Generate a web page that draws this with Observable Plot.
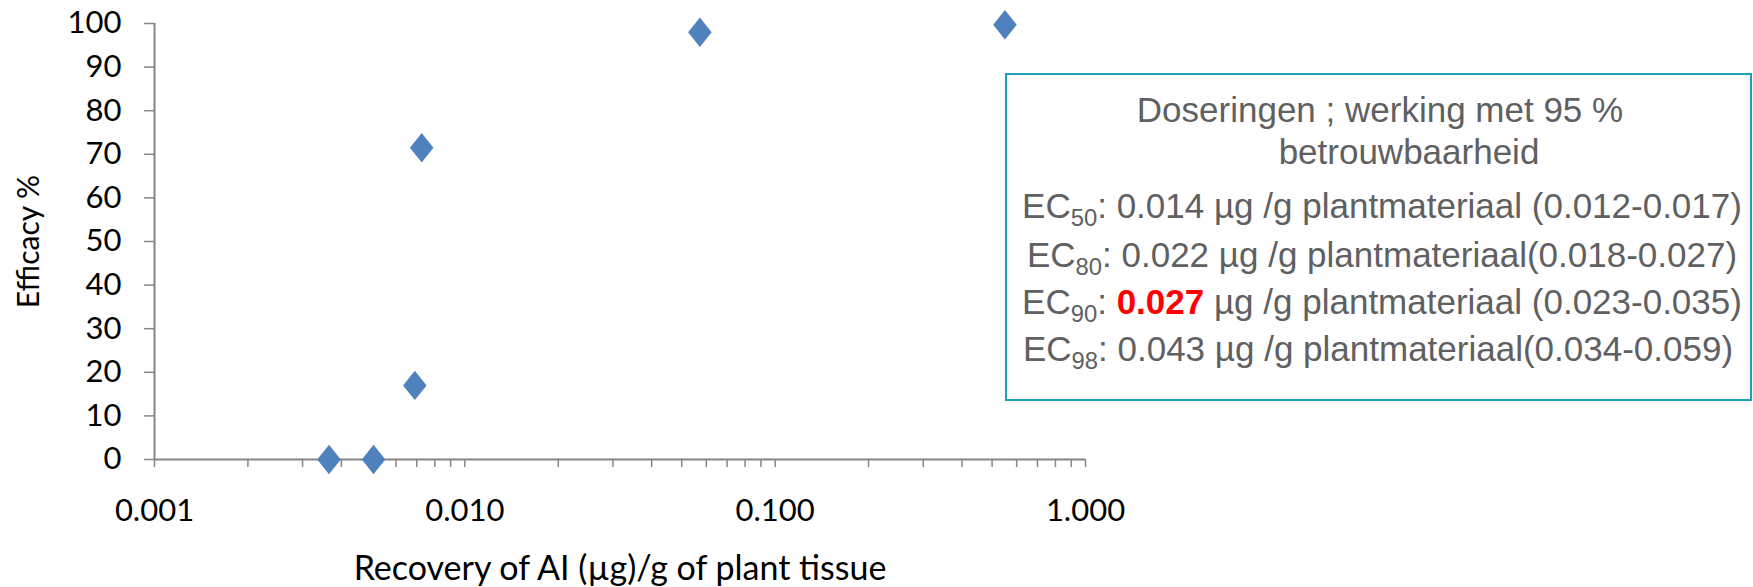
<!DOCTYPE html>
<html><head><meta charset="utf-8">
<script src="https://cdn.jsdelivr.net/npm/d3@7"></script>
<script src="https://cdn.jsdelivr.net/npm/@observablehq/plot@0.6"></script>
<style>
body{margin:0;background:#fff;}
#wrap{position:relative;width:1753px;height:587px;overflow:hidden;}
#legend{position:absolute;left:1005px;top:73px;width:747px;height:328px;border:2px solid #1f9fbd;box-sizing:border-box;font-family:"Liberation Sans",Arial,sans-serif;font-size:35px;color:#5f6062;}
#legend .ln{position:absolute;white-space:nowrap;transform:translateX(-50%);line-height:1;}
#legend sub{font-size:0.68em;vertical-align:-0.33em;line-height:0;}
#legend .hl{color:#ff0000;font-weight:bold;}
</style></head><body><div id="wrap"></div>
<script>
// data
const recovery = [0.00365, 0.00508, 0.0069, 0.00726, 0.0572, 0.55];
const efficacy = [0, 0, 17, 71.5, 98, 99.7];
// axes
const yTicks = [0, 10, 20, 30, 40, 50, 60, 70, 80, 90, 100];
const xMajor = [0.001, 0.01, 0.1, 1];
const xTicks = [0.001,0.002,0.003,0.004,0.005,0.006,0.007,0.008,0.009,
                0.01,0.02,0.03,0.04,0.05,0.06,0.07,0.08,0.09,
                0.1,0.2,0.3,0.4,0.5,0.6,0.7,0.8,0.9,1];
const xLabel = "Recovery of AI (µg)/g of plant tissue";
const yLabel = "Efficacy %";
// legend text
const legendTitle = ["Doseringen ; werking met 95 %", "betrouwbaarheid"];
const ecLevels = ["50", "80", "90", "98"];
const ecValues = ["0.014", "0.022", "0.027", "0.043"];
const ecUnits = [" µg /g plantmateriaal (", " µg /g plantmateriaal(", " µg /g plantmateriaal (", " µg /g plantmateriaal("];
const ecRanges = ["0.012-0.017", "0.018-0.027", "0.023-0.035", "0.034-0.059"];
const ecHighlight = [false, false, true, false];

const data = recovery.map((x, i) => ({x, y: efficacy[i]}));

const diamond = {
  draw(ctx, size) {
    const r = Math.sqrt(size / Math.PI);
    const hw = r * 0.84, hh = r * 1.05;
    ctx.moveTo(0, -hh); ctx.lineTo(hw, 0); ctx.lineTo(0, hh); ctx.lineTo(-hw, 0); ctx.closePath();
  }
};

const plot = Plot.plot({
  width: 1753, height: 587,
  marginLeft: 154, marginRight: 668, marginTop: 23, marginBottom: 128,
  x: {type: "log", domain: [0.001, 1]},
  y: {domain: [0, 100]},
  style: {fontFamily: "Lato, 'Open Sans', sans-serif", fontSize: "31px", color: "#000", background: "#fff"},
  marks: [
    Plot.axisY({ticks: yTicks, tickSize: 10, tickPadding: 23, stroke: "#868686", strokeWidth: 1.5, fill: "#000", fontSize: 31, label: null}),
    Plot.axisY({ticks: [], tickSize: 0, label: yLabel, labelAnchor: "center", labelArrow: "none", labelOffset: 137, fontSize: 30, fill: "#000"}),
    Plot.axisX({ticks: xTicks, tickSize: 8, tickPadding: 31, stroke: "#868686", strokeWidth: 1.5, fill: "#000", fontSize: 31,
      tickFormat: d => xMajor.some(m => Math.abs(m - d) < 1e-9) ? d3.format(".3f")(d) : "", label: null}),
    Plot.axisX({ticks: [], tickSize: 0, label: xLabel, labelAnchor: "center", labelArrow: "none", labelOffset: 120, fontSize: 34, fill: "#000"}),
    Plot.ruleX([0.001], {stroke: "#868686", strokeWidth: 2}),
    Plot.ruleY([0], {stroke: "#868686", strokeWidth: 2}),
    Plot.dot(data, {x: "x", y: "y", symbol: diamond, r: 14, fill: "#4f81bd", stroke: "none"})
  ]
});
const wrap = document.getElementById("wrap");
wrap.appendChild(plot);

const leg = document.createElement("div");
leg.id = "legend";
const tops = [17, 59, 113, 162, 209, 256];
const centers = [373, 402, 375, 375, 375, 371];
legendTitle.forEach((t, i) => {
  const d = document.createElement("div");
  d.className = "ln"; d.style.top = tops[i] + "px"; d.style.left = centers[i] + "px";
  d.textContent = t; leg.appendChild(d);
});
ecLevels.forEach((lv, i) => {
  const d = document.createElement("div");
  d.className = "ln"; d.style.top = tops[i + 2] + "px"; d.style.left = centers[i + 2] + "px";
  d.innerHTML = `EC<sub>${lv}</sub>: <span class="${ecHighlight[i] ? "hl" : ""}">${ecValues[i]}</span>${ecUnits[i]}${ecRanges[i]})`;
  leg.appendChild(d);
});
wrap.appendChild(leg);
</script></body></html>
